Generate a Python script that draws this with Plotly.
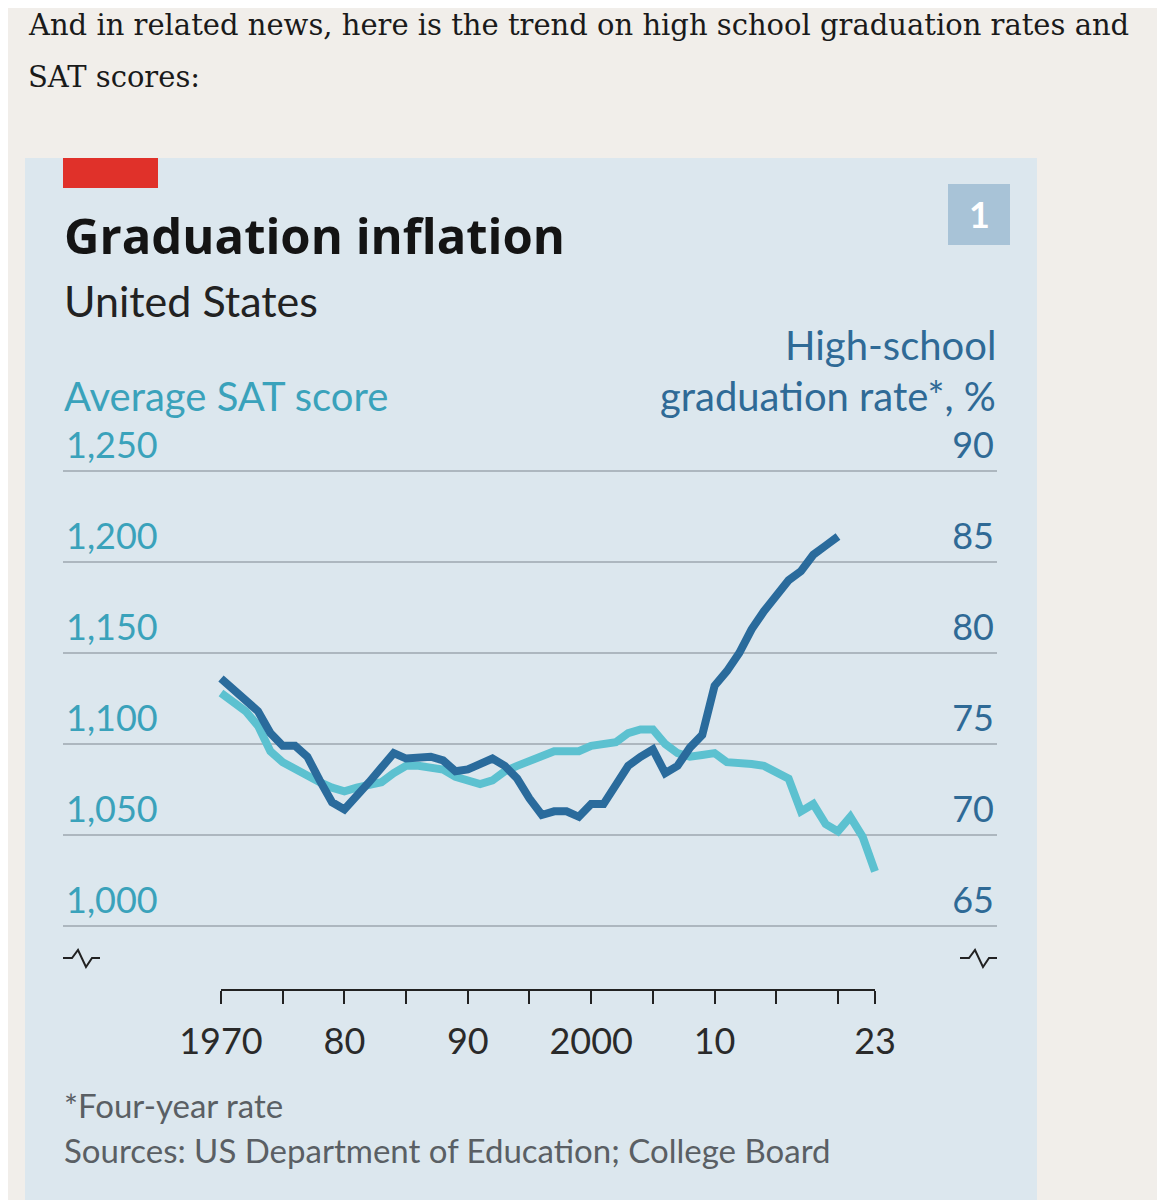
import plotly.graph_objects as go

# high-school graduation rate, % (four-year), 1970-2020
rate_years = list(range(1970, 2021))
grad_rate = [78.6, 78.0, 77.4, 76.8, 75.6, 74.9, 74.9, 74.3, 73.0, 71.8,
             71.4, 72.1, 72.9, 73.7, 74.5, 74.2, 74.2, 74.3, 74.1, 73.5,
             73.6, 73.9, 74.2, 73.8, 73.1, 72.0, 71.1, 71.3, 71.3, 71.0,
             71.7, 71.7, 72.7, 73.8, 74.3, 74.7, 73.4, 73.8, 74.8, 75.5,
             78.2, 79.0, 80.0, 81.3, 82.3, 83.2, 84.0, 84.5, 85.4, 85.9,
             86.4]

# average SAT score, 1970-2023
sat_years = list(range(1970, 2024))
sat_score = [1128, 1123, 1118, 1110, 1096, 1090, 1086, 1083, 1079, 1076,
             1074, 1076, 1078, 1079, 1084, 1088, 1088, 1087, 1086, 1082,
             1080, 1078, 1080, 1085, 1088, 1091, 1094, 1096, 1096, 1096,
             1099, 1100, 1101, 1106, 1108, 1108, 1100, 1095, 1093, 1094,
             1095, 1090, 1090, 1089, 1088, 1085, 1081, 1063, 1067, 1056,
             1052, 1060, 1049, 1030]

sat_ticks = [1000, 1050, 1100, 1150, 1200, 1250]
rate_ticks = [65, 70, 75, 80, 85, 90]
year_ticks = [1970, 1975, 1980, 1985, 1990, 1995, 2000, 2005, 2010, 2015, 2020, 2023]
year_text = ["1970", "", "80", "", "90", "", "2000", "", "10", "", "", "23"]

W, H = 1165, 1200
OFF = 8  # the page body adds this much margin around the figure
PAGE = "#f1eeea"
PANEL = "#dce7ee"
TEAL = "#5cc1d0"
TEAL_TXT = "#3aa2bb"
DARK = "#2a6b9c"
DARK_TXT = "#2f6a96"
GRID = "#adb7bf"
SANS = "Lato, 'Noto Sans', sans-serif"


def px(x):
    return (x - OFF) / W


def py(y):
    return 1 - (y - OFF) / H


# pixel frame of the chart (screen coordinates)
x_left, x_right = 63, 997
x1970, x2023 = 221, 875
ppy = (x2023 - x1970) / (2023 - 1970)
xr = [1970 - (x1970 - x_left) / ppy, 1970 + (x_right - x1970) / ppy]
y_top, y_bot = 420, 940
ppu = 91 / 50
sat_lo = 1000 - (y_bot - 926) / ppu
sat_hi = sat_lo + (y_bot - y_top) / ppu
rate_lo = 65 + (sat_lo - 1000) / 10
rate_hi = 65 + (sat_hi - 1000) / 10

fig = go.Figure()
fig.add_trace(go.Scatter(x=sat_years, y=sat_score, mode="lines",
                         line=dict(color=TEAL, width=8), yaxis="y", xaxis="x",
                         showlegend=False, hoverinfo="skip"))
fig.add_trace(go.Scatter(x=rate_years, y=grad_rate, mode="lines",
                         line=dict(color=DARK, width=8), yaxis="y2", xaxis="x",
                         showlegend=False, hoverinfo="skip"))
# carrier for the separate year scale underneath
fig.add_trace(go.Scatter(x=[1970, 2023], y=[None, None], xaxis="x2", yaxis="y3",
                         showlegend=False, hoverinfo="skip"))

fig.update_layout(
    template="none",
    width=W, height=H, autosize=False,
    margin=dict(l=0, r=0, t=0, b=0, pad=0, autoexpand=False),
    paper_bgcolor=PAGE, plot_bgcolor="rgba(0,0,0,0)",
    xaxis=dict(domain=[px(x_left), px(x_right)], range=xr, visible=False,
               anchor="y", automargin=False),
    yaxis=dict(domain=[py(y_bot), py(y_top)], range=[sat_lo, sat_hi],
               tickvals=sat_ticks, tickformat=",", showgrid=True,
               gridcolor=GRID, gridwidth=2, zeroline=False, showline=False,
               ticks="", ticklabelposition="inside top", side="left",
               tickfont=dict(family=SANS, size=36, color=TEAL_TXT),
               anchor="x", automargin=False),
    yaxis2=dict(overlaying="y", side="right", anchor="x",
                range=[rate_lo, rate_hi], tickvals=rate_ticks, showgrid=False,
                zeroline=False, showline=False, ticks="",
                ticklabelposition="inside top", automargin=False,
                tickfont=dict(family=SANS, size=36, color=DARK_TXT)),
    xaxis2=dict(domain=[px(x1970), px(x2023)], range=[1970, 2023],
                anchor="free", position=py(990), side="bottom",
                showline=True, linecolor="#222222", linewidth=2,
                ticks="outside", ticklen=13, tickwidth=2, tickcolor="#222222",
                tickvals=year_ticks, ticktext=year_text, showgrid=False,
                zeroline=False, ticklabelstandoff=7, automargin=False,
                tickfont=dict(family=SANS, size=36, color="#2a2a2a")),
    yaxis3=dict(domain=[0, 0.01], visible=False, anchor="x2", automargin=False),
)

shapes = [
    dict(type="rect", xref="paper", yref="paper", x0=px(25), x1=px(1037),
         y0=py(1210), y1=py(158), fillcolor=PANEL, line=dict(width=0),
         layer="below"),
    dict(type="rect", xref="paper", yref="paper", x0=px(63), x1=px(158),
         y0=py(188), y1=py(158), fillcolor="#e0312a", line=dict(width=0)),
    dict(type="rect", xref="paper", yref="paper", x0=px(948), x1=px(1010),
         y0=py(245), y1=py(184), fillcolor="#a8c3d7", line=dict(width=0)),
]
# axis-break marks
for x0 in (63, 960):
    pts = [(x0, 958), (x0 + 9, 958), (x0 + 15, 950), (x0 + 23, 967),
           (x0 + 29, 958), (x0 + 37, 958)]
    path = "M " + " L ".join(f"{px(a):.5f},{py(b):.5f}" for a, b in pts)
    shapes.append(dict(type="path", xref="paper", yref="paper", path=path,
                       line=dict(color="#222222", width=2)))
fig.update_layout(shapes=shapes)


def note(text, x, y, size, color, xanchor="left", family=SANS, bold=False):
    if bold:
        text = "<b>" + text + "</b>"
    fig.add_annotation(text=text, x=px(x), y=py(y), xref="paper", yref="paper",
                       xanchor=xanchor, yanchor="middle", showarrow=False,
                       borderpad=0,
                       font=dict(family=family, size=size, color=color))


SERIF = "'DejaVu Serif', 'Liberation Serif', serif"
note("And in related news, here is the trend on high school graduation rates and",
     27, 25, 29, "#1a1a1a", family=SERIF)
note("SAT scores:", 27, 77, 29, "#1a1a1a", family=SERIF)
note("Graduation inflation", 63, 235, 49, "#141414", bold=True,
     family="'Open Sans', Lato, sans-serif")
note("United States", 63, 300, 43, "#222222")
note("1", 979, 214, 36, "#ffffff", xanchor="center", bold=True)
note("Average SAT score", 63, 396, 40, TEAL_TXT)
note("High-school", 997, 345, 40, DARK_TXT, xanchor="right")
note("graduation rate*, %", 997, 396, 40, DARK_TXT, xanchor="right")
note("*Four-year rate", 63, 1105, 33, "#5a5f64")
note("Sources: US Department of Education; College Board", 63, 1150, 33, "#5a5f64")

fig.write_html("out.html")
